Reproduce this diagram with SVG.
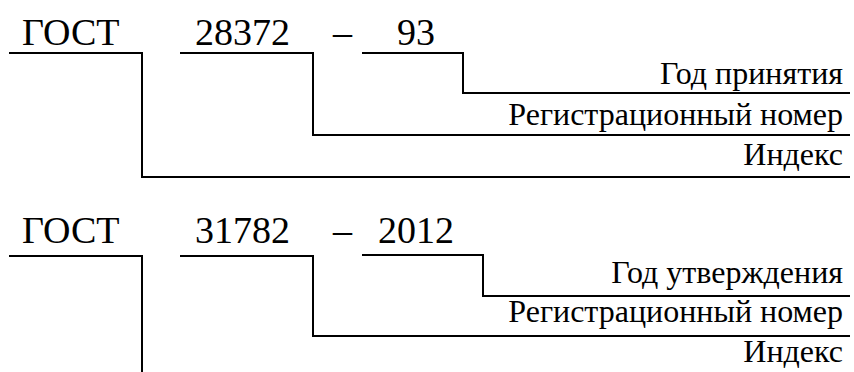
<svg xmlns="http://www.w3.org/2000/svg" width="854" height="372" viewBox="0 0 854 372">
<style>
text{font-family:'Liberation Serif','Times New Roman',serif;fill:#000}
.t{font-size:32px}
.b{font-size:38px}
.r{text-anchor:end}
.c{fill:none;stroke:#000;stroke-width:2}
</style>
<rect width="854" height="372" fill="#fff"/>
<g id="top">
<g id="top-gost"><text class="b" x="22" y="45">ГОСТ</text></g>
<g id="top-num"><text class="b" x="195" y="45">28372</text></g>
<g id="top-dash"><text class="b" x="333" y="45">–</text></g>
<g id="top-year"><text class="b" x="397" y="45">93</text></g>
<g id="top-l1"><text class="t r" x="843" y="84">Год принятия</text></g>
<g id="top-l2"><text class="t r" x="843" y="125">Регистрационный номер</text></g>
<g id="top-l3"><text class="t r" x="843" y="165">Индекс</text></g>
</g>
<g id="bottom">
<g id="bot-gost"><text class="b" x="22" y="243">ГОСТ</text></g>
<g id="bot-num"><text class="b" x="195" y="243">31782</text></g>
<g id="bot-dash"><text class="b" x="333" y="243">–</text></g>
<g id="bot-year"><text class="b" x="378" y="243">2012</text></g>
<g id="bot-l1"><text class="t r" x="843" y="283">Год утверждения</text></g>
<g id="bot-l2"><text class="t r" x="843" y="322">Регистрационный номер</text></g>
<g id="bot-l3"><text class="t r" x="843" y="362">Индекс</text></g>
</g>
<g id="connectors">
<polyline class="c" points="9,53 142,53 142,177 850,177"/>
<polyline class="c" points="180,53 313,53 313,135 850,135"/>
<polyline class="c" points="362,53 463,53 463,93 850,93"/>
<polyline class="c" points="9,256 142,256 142,372"/>
<polyline class="c" points="180,256 313,256 313,336 850,336"/>
<polyline class="c" points="362,255 483,255 483,296 850,296"/>
</g>
</svg>
